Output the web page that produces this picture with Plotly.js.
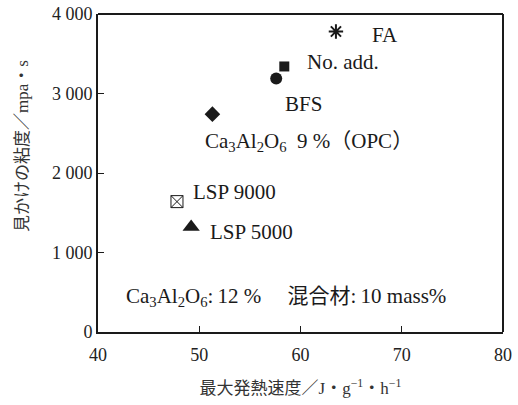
<!DOCTYPE html>
<html>
<head>
<meta charset="utf-8">
<script src="https://cdn.plot.ly/plotly-3.0.1.min.js"></script>
<style>html,body{margin:0;padding:0;background:#fff;}#chart{width:518px;height:405px;}</style>
</head>
<body>
<div id="chart"></div>
<script>
// Data
const sampleNames = ['FA', 'No. add.', 'BFS', 'OPC', 'LSP 9000', 'LSP 5000'];
const maxHeatRate = [63.5, 58.4, 57.6, 51.3, 47.8, 49.2];     // J·g-1·h-1
const viscosity = [3780, 3340, 3190, 2740, 1640, 1320];       // mPa·s
const xTicks = [40, 50, 60, 70, 80];
const yTicks = [0, 1000, 2000, 3000, 4000];
const pointLabels = ['FA', 'No. add.', 'BFS', 'Ca<sub>3</sub>Al<sub>2</sub>O<sub>6</sub>  9 %（OPC）', 'LSP 9000', 'LSP 5000'];
const noteText = 'Ca<sub>3</sub>Al<sub>2</sub>O<sub>6</sub>:\u200912 %\u3000 混合材:\u200910 mass%';
const xTitle = '最大発熱速度／J・g<sup>−1</sup>・h<sup>−1</sup>';
const yTitle = '見かけの粘度／mpa・s';

// Styles
const INK = '#1a1a1a';
const markerStyles = {
  'FA':       {symbol: 'asterisk-open', size: 12, line: {width: 2, color: INK}},
  'No. add.': {symbol: 'square', size: 10},
  'BFS':      {symbol: 'circle', size: 12},
  'OPC':      {symbol: 'diamond', size: 12},
  'LSP 9000': {symbol: 'square-x-open', size: 12, line: {width: 1, color: INK}},
  'LSP 5000': {symbol: 'triangle-up', size: 15}
};
// label placement (offset in data units, anchor)
const labelPlace = {
  'FA':       {dx: 4.85, dy: -50, xanchor: 'center'},
  'No. add.': {dx: 5.8, dy: 54, xanchor: 'center'},
  'BFS':      {dx: 2.65, dy: -316, xanchor: 'center'},
  'OPC':      {dx: -0.9, dy: -345, xanchor: 'left'},
  'LSP 9000': {dx: 1.4, dy: 127, xanchor: 'left'},
  'LSP 5000': {dx: 1.7, dy: -68, xanchor: 'left'}
};

const FONT = 'Liberation Serif, Times New Roman, Noto Sans CJK JP, serif';
const LBL = 21;

const traces = sampleNames.map((name, i) => {
  const st = markerStyles[name];
  return {
    type: 'scatter', mode: 'markers', name: name,
    x: [maxHeatRate[i]], y: [viscosity[i]],
    marker: Object.assign({color: INK, line: {width: 0, color: INK}}, st),
    showlegend: false, hoverinfo: 'x+y+name'
  };
});

const annotations = sampleNames.map((name, i) => {
  const p = labelPlace[name];
  return {
    x: maxHeatRate[i] + p.dx, y: viscosity[i] + p.dy, xref: 'x', yref: 'y',
    text: pointLabels[i], showarrow: false, xanchor: p.xanchor, yanchor: 'middle',
    font: {family: FONT, size: LBL, color: INK}
  };
});
annotations.push({
  x: 42.6, y: 446, xref: 'x', yref: 'y', text: noteText, showarrow: false,
  xanchor: 'left', yanchor: 'middle', font: {family: FONT, size: LBL, color: INK}
});
annotations.push({
  x: -0.185, y: 0.585, xref: 'paper', yref: 'paper', textangle: -90,
  text: yTitle, showarrow: false, xanchor: 'center', yanchor: 'middle',
  font: {family: FONT, size: 17, color: '#333'}
});

const layout = {
  width: 518, height: 405,
  margin: {l: 98, r: 15, t: 14, b: 73, pad: 0},
  paper_bgcolor: '#fff', plot_bgcolor: '#fff',
  separators: '. ',
  font: {family: FONT, size: 18, color: '#222'},
  xaxis: {
    range: [40, 80], tickvals: xTicks, ticks: 'inside', ticklen: 6, tickwidth: 1, tickcolor: INK,
    showline: true, linewidth: 2, linecolor: INK, mirror: false, showgrid: false, zeroline: false,
    ticklabelstandoff: 5,
    tickfont: {family: FONT, size: 18, color: '#222'},
    title: {text: xTitle, font: {family: FONT, size: 17, color: '#333'}, standoff: 19}
  },
  yaxis: {
    range: [0, 4000], tickvals: yTicks, tickformat: ',d', ticks: 'inside', ticklen: 6, tickwidth: 1, tickcolor: INK,
    showline: true, linewidth: 2, linecolor: INK, mirror: false, showgrid: false, zeroline: false,
    tickfont: {family: FONT, size: 18, color: '#222'}
  },
  shapes: [
    {type: 'line', xref: 'paper', yref: 'paper', x0: 0, x1: 1, y0: 1, y1: 1, line: {color: INK, width: 2}},
    {type: 'line', xref: 'paper', yref: 'paper', x0: 1, x1: 1, y0: 0, y1: 1, line: {color: INK, width: 2}}
  ],
  annotations: annotations
};

Plotly.newPlot('chart', traces, layout, {displayModeBar: false, staticPlot: true});
</script>
</body>
</html>
